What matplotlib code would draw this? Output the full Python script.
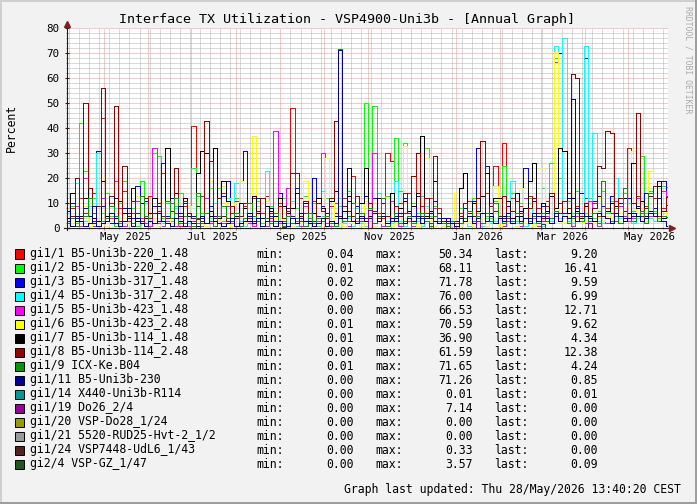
import matplotlib
matplotlib.use("Agg")
import matplotlib.pyplot as plt
import matplotlib.dates as mdates
from matplotlib.ticker import MultipleLocator, NullFormatter
from matplotlib.lines import Line2D
from matplotlib.patches import Rectangle
import numpy as np
import pandas as pd
from datetime import datetime

# ---- data (3-day averages) ----
names = ["gi1/1 B5-Uni3b-220_1.48", "gi1/2 B5-Uni3b-220_2.48", "gi1/3 B5-Uni3b-317_1.48",
         "gi1/4 B5-Uni3b-317_2.48", "gi1/5 B5-Uni3b-423_1.48", "gi1/6 B5-Uni3b-423_2.48",
         "gi1/7 B5-Uni3b-114_1.48", "gi1/8 B5-Uni3b-114_2.48", "gi1/9 ICX-Ke.B04",
         "gi1/11 B5-Uni3b-230", "gi1/14 X440-Uni3b-R114", "gi1/19 Do26_2/4",
         "gi1/20 VSP-Do28_1/24", "gi1/21 5520-RUD25-Hvt-2_1/2", "gi1/24 VSP7448-UdL6_1/43",
         "gi2/4 VSP-GZ_1/47"]
colors = ["#FF0000", "#00FF00", "#0000FF", "#00FFFF", "#FF00FF", "#FFFF00", "#000000",
          "#990000", "#009900", "#000099", "#009999", "#990099", "#999900", "#999999",
          "#552222", "#225522"]
mins = [0.04, 0.01, 0.02, 0.00, 0.00, 0.01, 0.01, 0.00, 0.01, 0.00, 0.00, 0.00, 0.00, 0.00, 0.00, 0.00]
maxs = [50.34, 68.11, 71.78, 76.00, 66.53, 70.59, 36.90, 61.59, 71.65, 71.26, 0.01, 7.14, 0.00, 0.00, 0.33, 3.57]
lasts = [9.20, 16.41, 9.59, 6.99, 12.71, 9.62, 4.34, 12.38, 4.24, 0.85, 0.01, 0.00, 0.00, 0.00, 0.00, 0.09]

gi1_1 = [2, 8, 1, 12, 6, 2, 14, 1, 44, 5, 10, 2, 8, 15, 2, 6, 11, 2, 5, 13,
         3, 7, 22, 4, 12, 6, 1, 9, 2, 41, 4, 13, 6, 2, 10, 3, 14, 2, 6, 11,
         2, 9, 3, 12, 2, 6, 13, 4, 2, 10, 3, 8, 48, 4, 12, 6, 2, 11, 3, 15,
         4, 9, 6, 2, 12, 3, 21, 8, 3, 50, 5, 12, 6, 4, 30, 27, 5, 10, 6, 14,
         21, 5, 9, 6, 12, 3, 8, 2, 1, 2, 1, 6, 4, 11, 5, 8, 6, 14, 3, 25,
         5, 34, 6, 12, 3, 9, 2, 13, 4, 8, 5, 11, 26, 6, 10, 5, 14, 6, 9, 5,
         12, 3, 10, 5, 15, 8, 6, 11, 4, 7, 32, 5, 13, 4, 9, 7, 12, 5, 8, 9.2]
gi1_2 = [1, 9, 2, 42, 23, 2, 12, 1, 6, 14, 5, 1, 10, 19, 2, 8, 1, 19, 11, 2,
         30, 29, 4, 10, 3, 9, 14, 5, 1, 24, 13, 6, 2, 16, 5, 16, 3, 9, 1, 12,
         3, 8, 5, 1, 11, 2, 4, 9, 2, 3, 12, 5, 2, 8, 1, 13, 2, 10, 1, 5,
         12, 3, 1, 9, 2, 15, 3, 8, 4, 50, 3, 49, 12, 6, 13, 4, 36, 15, 34, 3,
         10, 6, 13, 32, 5, 9, 3, 1, 1, 2, 1, 8, 2, 5, 12, 6, 13, 5, 4, 11,
         5, 25, 4, 14, 3, 10, 4, 12, 5, 3, 16, 4, 26, 68, 20, 5, 11, 6, 15, 4,
         6, 12, 4, 7, 15, 6, 11, 8, 5, 14, 4, 7, 12, 29, 6, 15, 7, 4, 17, 16.41]
gi1_3 = [3, 10, 4, 1, 8, 5, 2, 31, 9, 4, 2, 12, 3, 8, 6, 4, 17, 3, 11, 2,
         9, 3, 26, 5, 12, 2, 6, 10, 3, 5, 14, 4, 6, 9, 5, 2, 13, 19, 3, 6,
         10, 31, 5, 3, 12, 4, 9, 5, 3, 14, 4, 8, 5, 16, 4, 11, 3, 20, 5, 9,
         6, 12, 5, 71.78, 4, 11, 3, 9, 4, 13, 3, 12, 5, 10, 3, 14, 5, 8, 12, 6,
         5, 13, 4, 9, 3, 11, 4, 2, 4, 2, 3, 2, 8, 3, 11, 32, 4, 25, 10, 3,
         12, 4, 9, 3, 14, 7, 24, 4, 11, 5, 9, 6, 13, 7, 70, 6, 12, 5, 8, 14,
         68, 5, 11, 6, 9, 7, 13, 6, 10, 4, 12, 5, 9, 7, 14, 6, 8, 12, 19, 9.59]
gi1_4 = [1, 2, 18, 1, 3, 9, 1, 30, 2, 1, 3, 8, 1, 4, 2, 1, 3, 2, 10, 2,
         3, 1, 2, 4, 1, 8, 3, 1, 2, 1, 3, 2, 1, 4, 10, 3, 1, 12, 2, 18,
         3, 1, 2, 4, 9, 1, 23, 3, 2, 1, 4, 2, 11, 1, 2, 10, 3, 1, 4, 15,
         2, 3, 1, 12, 2, 4, 1, 8, 2, 1, 3, 2, 14, 1, 3, 2, 19, 3, 1, 4,
         2, 3, 1, 9, 4, 1, 2, 1, 0, 1, 0, 1, 2, 1, 3, 8, 1, 4, 2, 3,
         1, 2, 4, 19, 2, 3, 1, 10, 2, 3, 1, 2, 3, 73, 4, 76, 3, 2, 4, 3,
         73, 4, 38, 3, 2, 5, 3, 20, 4, 3, 10, 2, 4, 3, 8, 4, 3, 6, 5, 6.99]
gi1_5 = [1, 2, 9, 1, 20, 2, 1, 3, 12, 1, 4, 19, 2, 1, 3, 2, 11, 4, 2, 1,
         32, 2, 1, 3, 10, 1, 4, 2, 1, 3, 2, 1, 12, 2, 1, 3, 2, 9, 2, 4,
         1, 3, 2, 1, 4, 12, 1, 3, 39, 2, 1, 16, 2, 3, 1, 9, 4, 1, 3, 30,
         2, 1, 10, 2, 4, 1, 2, 3, 1, 4, 2, 30, 3, 1, 2, 11, 3, 1, 2, 3,
         1, 4, 2, 3, 1, 8, 3, 1, 0, 1, 0, 1, 2, 3, 1, 4, 2, 1, 10, 2,
         4, 1, 3, 2, 5, 1, 12, 2, 4, 1, 3, 5, 2, 66.53, 3, 2, 4, 1, 5, 3,
         2, 11, 3, 1, 5, 2, 4, 3, 9, 5, 3, 4, 12, 6, 3, 5, 4, 3, 15, 12.71]
gi1_6 = [1, 2, 1, 3, 9, 1, 4, 2, 20, 1, 3, 11, 1, 4, 2, 1, 13, 2, 1, 2,
         3, 1, 10, 4, 1, 2, 3, 1, 9, 1, 3, 2, 1, 19, 2, 3, 17, 2, 1, 10,
         19, 2, 3, 37, 2, 1, 11, 2, 4, 1, 9, 3, 1, 4, 2, 19, 3, 1, 12, 4,
         28, 3, 30, 2, 1, 13, 2, 4, 1, 11, 2, 1, 4, 2, 12, 1, 2, 4, 33, 2,
         3, 1, 2, 28, 3, 1, 2, 1, 2, 1, 14, 1, 2, 3, 1, 12, 4, 1, 3, 17,
         1, 3, 2, 4, 1, 16, 2, 5, 1, 3, 24, 2, 4, 70.59, 3, 2, 5, 3, 4, 2,
         3, 5, 2, 12, 3, 5, 4, 2, 6, 3, 4, 31, 5, 4, 3, 23, 4, 6, 5, 9.62]
gi1_7 = [4, 14, 3, 5, 12, 16, 4, 3, 19, 5, 13, 4, 11, 6, 4, 16, 3, 10, 4, 6,
         12, 9, 5, 32, 4, 14, 3, 12, 5, 4, 22, 31, 30, 5, 32, 4, 19, 11, 3, 5,
         10, 8, 3, 13, 6, 4, 9, 7, 5, 12, 9, 6, 8, 14, 5, 10, 3, 6, 12, 8,
         5, 11, 15, 4, 7, 13, 3, 6, 10, 24, 5, 7, 12, 6, 5, 14, 4, 8, 11, 7,
         9, 14, 37, 5, 7, 19, 6, 3, 2, 3, 2, 16, 22, 5, 10, 7, 13, 22, 6, 12,
         12, 5, 11, 4, 14, 5, 8, 19, 26, 6, 10, 7, 13, 8, 32, 31, 6, 12, 7, 4,
         9, 5, 8, 13, 5, 7, 10, 9, 5, 12, 6, 26, 8, 11, 5, 7, 6, 17, 4, 4.34]
gi1_8 = [3, 5, 20, 4, 50, 16, 3, 9, 56, 4, 13, 49, 3, 25, 5, 11, 6, 3, 12, 4,
         6, 10, 5, 4, 7, 24, 5, 11, 6, 4, 9, 3, 43, 27, 4, 12, 5, 3, 9, 4,
         5, 10, 4, 3, 7, 12, 4, 6, 3, 9, 4, 7, 22, 22, 5, 11, 6, 3, 10, 7,
         4, 12, 43, 5, 9, 7, 5, 13, 6, 4, 10, 7, 4, 12, 5, 3, 9, 5, 14, 6,
         21, 30, 5, 12, 4, 29, 6, 3, 2, 3, 2, 5, 10, 6, 5, 12, 35, 6, 9, 7,
         5, 13, 4, 7, 11, 6, 4, 8, 12, 6, 4, 9, 14, 5, 6, 11, 8, 61.59, 60, 5,
         10, 4, 8, 25, 24, 39, 38, 6, 12, 7, 4, 10, 46, 5, 8, 13, 17, 5, 7, 12.38]
gi1_9 = [2, 4, 1, 3, 5, 12, 6, 1, 3, 4, 9, 5, 1, 3, 8, 2, 4, 13, 5, 3,
         2, 6, 3, 11, 4, 12, 2, 5, 3, 1, 14, 2, 6, 3, 1, 5, 9, 4, 3, 6,
         1, 4, 10, 5, 3, 1, 4, 2, 6, 3, 1, 5, 2, 4, 3, 1, 6, 2, 4, 3,
         5, 2, 1, 71.65, 3, 5, 10, 4, 6, 3, 8, 2, 5, 12, 1, 4, 6, 2, 3, 5,
         2, 4, 6, 3, 1, 5, 3, 2, 1, 3, 1, 2, 4, 7, 3, 5, 2, 6, 3, 10,
         4, 2, 5, 3, 6, 2, 4, 3, 5, 2, 6, 3, 4, 7, 3, 5, 2, 4, 6, 3,
         5, 3, 6, 2, 19, 4, 3, 5, 2, 16, 4, 3, 5, 7, 2, 14, 6, 3, 5, 4.24]
gi1_11 = [7, 1, 5, 3, 1, 2, 9, 1, 2, 3, 6, 2, 1, 3, 8, 1, 4, 2, 1, 3,
          2, 6, 3, 2, 1, 4, 9, 1, 3, 2, 1, 5, 2, 7, 3, 2, 1, 2, 4, 1,
          2, 3, 6, 2, 4, 1, 3, 8, 1, 3, 2, 1, 4, 2, 6, 3, 2, 1, 2, 4,
          1, 3, 2, 71.26, 4, 24, 3, 2, 5, 3, 4, 6, 3, 5, 2, 4, 3, 6, 2, 4,
          3, 5, 2, 4, 6, 3, 2, 4, 3, 2, 1, 4, 3, 5, 2, 4, 6, 3, 5, 2,
          4, 3, 6, 2, 5, 3, 4, 2, 6, 3, 5, 4, 2, 6, 3, 5, 4, 51.6, 3, 6,
          5, 4, 3, 6, 5, 4, 2, 6, 5, 3, 4, 6, 5, 3, 4, 6, 5, 19, 3, 0.85]

# near-idle ports: only the few non-zero 3-day samples
gi1_14_base = 0.01
gi1_19_bins, gi1_19_vals = [70, 95, 121], [7.14, 3.0, 2.1]
gi1_24_bins, gi1_24_vals = [50], [0.33]
gi2_4_bins, gi2_4_vals = [30, 84, 110, 139], [3.57, 2.0, 1.5, 0.09]

n = len(gi1_1)


def sparse(bins, vals, base=0.0):
    a = np.full(n, base)
    a[bins] = vals
    return a


series = [gi1_1, gi1_2, gi1_3, gi1_4, gi1_5, gi1_6, gi1_7, gi1_8, gi1_9, gi1_11,
          sparse([], [], gi1_14_base), sparse(gi1_19_bins, gi1_19_vals),
          sparse([], []), sparse([], []), sparse(gi1_24_bins, gi1_24_vals),
          sparse(gi2_4_bins, gi2_4_vals)]

start = datetime(2025, 4, 5, 13, 40)
end = datetime(2026, 5, 28, 13, 40)
label_months = [datetime(2025, 5, 16), datetime(2025, 7, 16), datetime(2025, 9, 16),
                datetime(2025, 11, 16), datetime(2026, 1, 16), datetime(2026, 3, 16),
                datetime(2026, 5, 16)]
label_text = ["May 2025", "Jul 2025", "Sep 2025", "Nov 2025", "Jan 2026", "Mar 2026", "May 2026"]

# ---- figure ----
W, H, DPI = 697, 504, 100
MONO = "DejaVu Sans Mono"
fig = plt.figure(figsize=(W / DPI, H / DPI), dpi=DPI, facecolor="#F2F2F2")


def fx(x):
    return x / W


def fy(y):
    return 1 - y / H


ax = fig.add_axes([fx(67), fy(228), fx(668) - fx(67), (228 - 28) / H])
ax.set_facecolor("white")
for s in ax.spines.values():
    s.set_visible(False)

for vals, col in zip(series, colors):
    vals = np.asarray(vals, float)
    edges = pd.date_range("2025-04-05", periods=len(vals) + 1, freq="3D")
    y = np.append(vals, vals[-1])
    ax.plot(edges, y, drawstyle="steps-post", color=col, lw=0.5, antialiased=False, zorder=3)

ax.set_xlim(start, end)
ax.set_ylim(0, 80)

ax.xaxis.set_major_locator(mdates.MonthLocator())
ax.xaxis.set_minor_locator(mdates.WeekdayLocator(byweekday=mdates.MO))
ax.xaxis.set_major_formatter(NullFormatter())
ax.yaxis.set_major_locator(MultipleLocator(10))
ax.yaxis.set_minor_locator(MultipleLocator(2))
ax.set_axisbelow(True)
ax.grid(which="minor", color="#B4B4B4", lw=0.72, ls=(0, (1, 1)))
ax.grid(which="major", color="#EB9595", lw=0.72, ls=(0, (1, 1)))

ax.tick_params(axis="x", which="major", length=3, width=0.8, color="#E07070", direction="inout")
ax.tick_params(axis="x", which="minor", length=2, width=0.8, color="#A0A0A0", direction="inout")
ax.tick_params(axis="y", which="major", length=3, width=0.8, color="#1F1F1F", direction="inout",
               labelsize=7.8, pad=4)
ax.tick_params(axis="y", which="minor", length=2, width=0.8, color="#A0A0A0", direction="inout")
for t in ax.get_yticklabels():
    t.set_fontfamily(MONO)

for d, txt in zip(label_months, label_text):
    ax.text(d, -9 / 200, txt, transform=ax.get_xaxis_transform(), ha="center", va="center",
            fontsize=7.6, family=MONO, clip_on=False)

# axes with rrdtool-style arrows
ax.plot([0, 0], [-2 / 200, 1.02], transform=ax.transAxes, color="#1F1F1F", lw=0.8,
        clip_on=False, zorder=5)
ax.plot([-3 / 601, 1.006], [0, 0], transform=ax.transAxes, color="#1F1F1F", lw=0.8,
        clip_on=False, zorder=5)
ax.plot([0], [1.022], marker="^", ms=4.5, color="#7F1F1F", transform=ax.transAxes,
        clip_on=False, zorder=6)
ax.plot([1.007], [0], marker=">", ms=4.5, color="#7F1F1F", transform=ax.transAxes,
        clip_on=False, zorder=6)

# texts
fig.text(fx(347), fy(19), "Interface TX Utilization - VSP4900-Uni3b - [Annual Graph]",
         ha="center", va="center", fontsize=9.6, family=MONO)
fig.text(fx(11), fy(128), "Percent", rotation=90, ha="center", va="center", fontsize=8.3, family=MONO)
fig.text(fx(688), fy(60), "RRDTOOL / TOBI OETIKER", rotation=270, ha="center", va="center",
         fontsize=5.9, family=MONO, color="#AAAAAA")

for i, (nm, col, mn, mx, la) in enumerate(zip(names, colors, mins, maxs, lasts)):
    yy = 254 + 14 * i
    fig.add_artist(Rectangle((fx(15), fy(yy + 4.5)), 9 / W, 9 / H, transform=fig.transFigure,
                             facecolor=col, edgecolor="black", lw=0.7))
    kw = dict(va="center", fontsize=8.3, family=MONO)
    fig.text(fx(30), fy(yy), nm, ha="left", **kw)
    fig.text(fx(256), fy(yy), "min:", ha="left", **kw)
    fig.text(fx(354), fy(yy), f"{mn:.2f}", ha="right", **kw)
    fig.text(fx(375), fy(yy), "max:", ha="left", **kw)
    fig.text(fx(473), fy(yy), f"{mx:.2f}", ha="right", **kw)
    fig.text(fx(494), fy(yy), "last:", ha="left", **kw)
    fig.text(fx(598), fy(yy), f"{la:.2f}", ha="right", **kw)

fig.text(fx(681), fy(489), "Graph last updated: Thu 28/May/2026 13:40:20 CEST",
         ha="right", va="center", fontsize=8.3, family=MONO)

# 3d frame around the image
fig.add_artist(Line2D([0, 1], [fy(1), fy(1)], transform=fig.transFigure, color="#CFCFCF", lw=1.44))
fig.add_artist(Line2D([fx(1), fx(1)], [0, 1], transform=fig.transFigure, color="#CFCFCF", lw=1.44))
fig.add_artist(Line2D([fx(W - 1), fx(W - 1)], [0, 1], transform=fig.transFigure, color="#9E9E9E", lw=1.44))
fig.add_artist(Line2D([0, 1], [fy(H - 1), fy(H - 1)], transform=fig.transFigure, color="#9E9E9E", lw=1.44))

fig.savefig("out.png", dpi=DPI, facecolor=fig.get_facecolor())
